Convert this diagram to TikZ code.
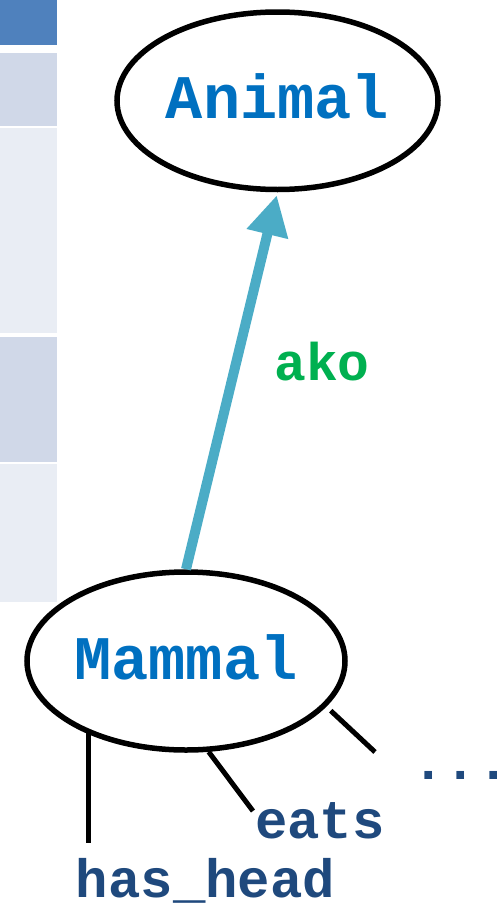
\documentclass[tikz,border=0pt]{standalone}
\usepackage{fontspec}
\newfontfamily\cour{Liberation Mono}
\usetikzlibrary{shapes.geometric,arrows.meta}
\definecolor{hdrblue}{HTML}{4F81BD}
\definecolor{bandmid}{HTML}{D0D8E8}
\definecolor{bandlight}{HTML}{E9EDF4}
\definecolor{titleblue}{HTML}{0070C0}
\definecolor{labelblue}{HTML}{1F497D}
\definecolor{akogreen}{HTML}{00B050}
\definecolor{arrowcol}{HTML}{4BACC6}
\tikzset{
  concept/.style={ellipse, draw=black, line width=5.5pt, inner sep=0pt,
    text=titleblue, font=\cour\bfseries\fontsize{62}{62}\selectfont,
    text height=36pt, text depth=0pt},
  isa/.style={draw=arrowcol, line width=10pt,
    -{Triangle[length=40pt,width=40pt]}, shorten >=3pt},
  link/.style={draw=black, line width=5pt},
  lbl/.style={inner sep=0pt, text=labelblue,
    font=\cour\bfseries\fontsize{54}{54}\selectfont},
  edgelbl/.style={inner sep=0pt, text=akogreen,
    font=\cour\bfseries\fontsize{53}{53}\selectfont}
}
\begin{document}
\begin{tikzpicture}[x=1pt,y=-1pt]
\useasboundingbox (0,0) rectangle (496,913);
% left table strip
\fill[hdrblue]   (0,0)   rectangle (57,45);
\fill[bandmid]   (0,53)  rectangle (57,126);
\fill[bandlight] (0,128) rectangle (57,333);
\fill[bandmid]   (0,337) rectangle (57,462);
\fill[bandlight] (0,464) rectangle (57,602);
% concepts
\node[concept, minimum width=321pt, minimum height=177.5pt] (animal)
  at (277.5,100.75) {\makebox[0pt]{Animal}};
\node[concept, minimum width=318pt, minimum height=178pt] (mammal)
  at (186,661) {\makebox[0pt]{Mammal}};
% ako arrow
\draw[isa] (mammal.north) -- (animal.south);
\node[edgelbl, anchor=base] (ako) at (322,380) {ako};
% attribute links
\coordinate (hhend) at (88,843);
\coordinate (eatsend) at (253,811);
\coordinate (dotsend) at (375,752);
\draw[link] (hhend |- mammal.215) -- (hhend);
\draw[link] (mammal.284) -- (eatsend);
\draw[link, shorten <=6pt] (mammal.342) -- (dotsend);
% labels
\node[lbl, anchor=base] (eats) at (320,838) {eats};
\node[lbl, anchor=base] (hashead) at (205.5,897) {has\_head};
\node[lbl, anchor=base] (dots) at (461,779) {...};
\end{tikzpicture}
\end{document}
